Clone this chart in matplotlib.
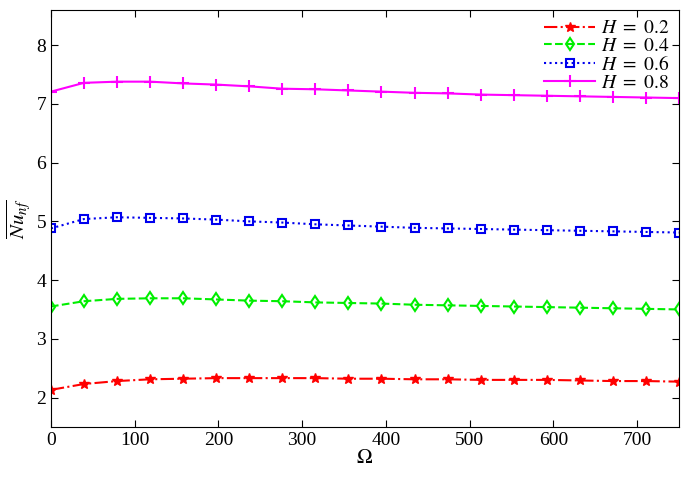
import matplotlib
matplotlib.use("Agg")
import matplotlib.pyplot as plt

plt.rcParams["font.family"] = "serif"
plt.rcParams["font.serif"] = ["Liberation Serif", "DejaVu Serif"]
plt.rcParams["mathtext.fontset"] = "stix"

omega = [0, 39.5, 79, 118.4, 157.9, 197.4, 236.8, 276.3, 315.8, 355.3,
         394.7, 434.2, 473.7, 513.2, 552.6, 592.1, 631.6, 671.1, 710.5, 750]

nu_h02 = [2.13, 2.23, 2.28, 2.31, 2.32, 2.33, 2.33, 2.33, 2.33, 2.32,
          2.32, 2.31, 2.31, 2.30, 2.30, 2.30, 2.29, 2.28, 2.28, 2.27]
nu_h04 = [3.55, 3.64, 3.68, 3.69, 3.69, 3.67, 3.65, 3.64, 3.62, 3.61,
          3.60, 3.58, 3.57, 3.56, 3.55, 3.54, 3.53, 3.52, 3.51, 3.50]
nu_h06 = [4.88, 5.04, 5.07, 5.06, 5.05, 5.03, 5.00, 4.98, 4.95, 4.93,
          4.91, 4.89, 4.88, 4.87, 4.86, 4.85, 4.84, 4.83, 4.82, 4.81]
nu_h08 = [7.21, 7.36, 7.38, 7.38, 7.35, 7.33, 7.30, 7.26, 7.25, 7.23,
          7.21, 7.19, 7.18, 7.16, 7.15, 7.14, 7.13, 7.12, 7.11, 7.10]

labels = [r"$H\ =\ 0.2$", r"$H\ =\ 0.4$", r"$H\ =\ 0.6$", r"$H\ =\ 0.8$"]

fig = plt.figure(figsize=(6.88, 4.78), dpi=100)
ax = fig.add_axes([0.074, 0.107, 0.913, 0.872])

ax.plot(omega, nu_h02, color="red", ls="-.", lw=1.5, marker="*", ms=7,
        label=labels[0])
ax.plot(omega, nu_h04, color="#00ee00", ls="--", lw=1.5, marker="d", ms=6.5,
        mfc="none", mew=1.5, label=labels[1])
ax.plot(omega, nu_h06, color="#0000ee", ls=":", lw=1.5, marker="s", ms=5.5,
        mfc="none", mew=1.5, label=labels[2])
ax.plot(omega, nu_h08, color="magenta", ls="-", lw=1.5, marker="+", ms=9,
        mew=1.5, label=labels[3])

ax.set_xlim(0, 750)
ax.set_ylim(1.5, 8.6)
ax.set_xticks(range(0, 701, 100))
ax.set_yticks(range(2, 9))
ax.tick_params(direction="in", top=True, right=True, labelsize=14, length=5)
for sp in ax.spines.values():
    sp.set_linewidth(0.8)

ax.set_xlabel(r"$\Omega$", fontsize=15, labelpad=0)
ax.set_ylabel(r"$\overline{Nu_{nf}}$", fontsize=15, labelpad=2)

ax.legend(loc="upper right", frameon=False, fontsize=14, handlelength=2.6,
          handletextpad=0.3, labelspacing=0.0, borderaxespad=0.3,
          borderpad=0.2)

fig.savefig("out.png")
